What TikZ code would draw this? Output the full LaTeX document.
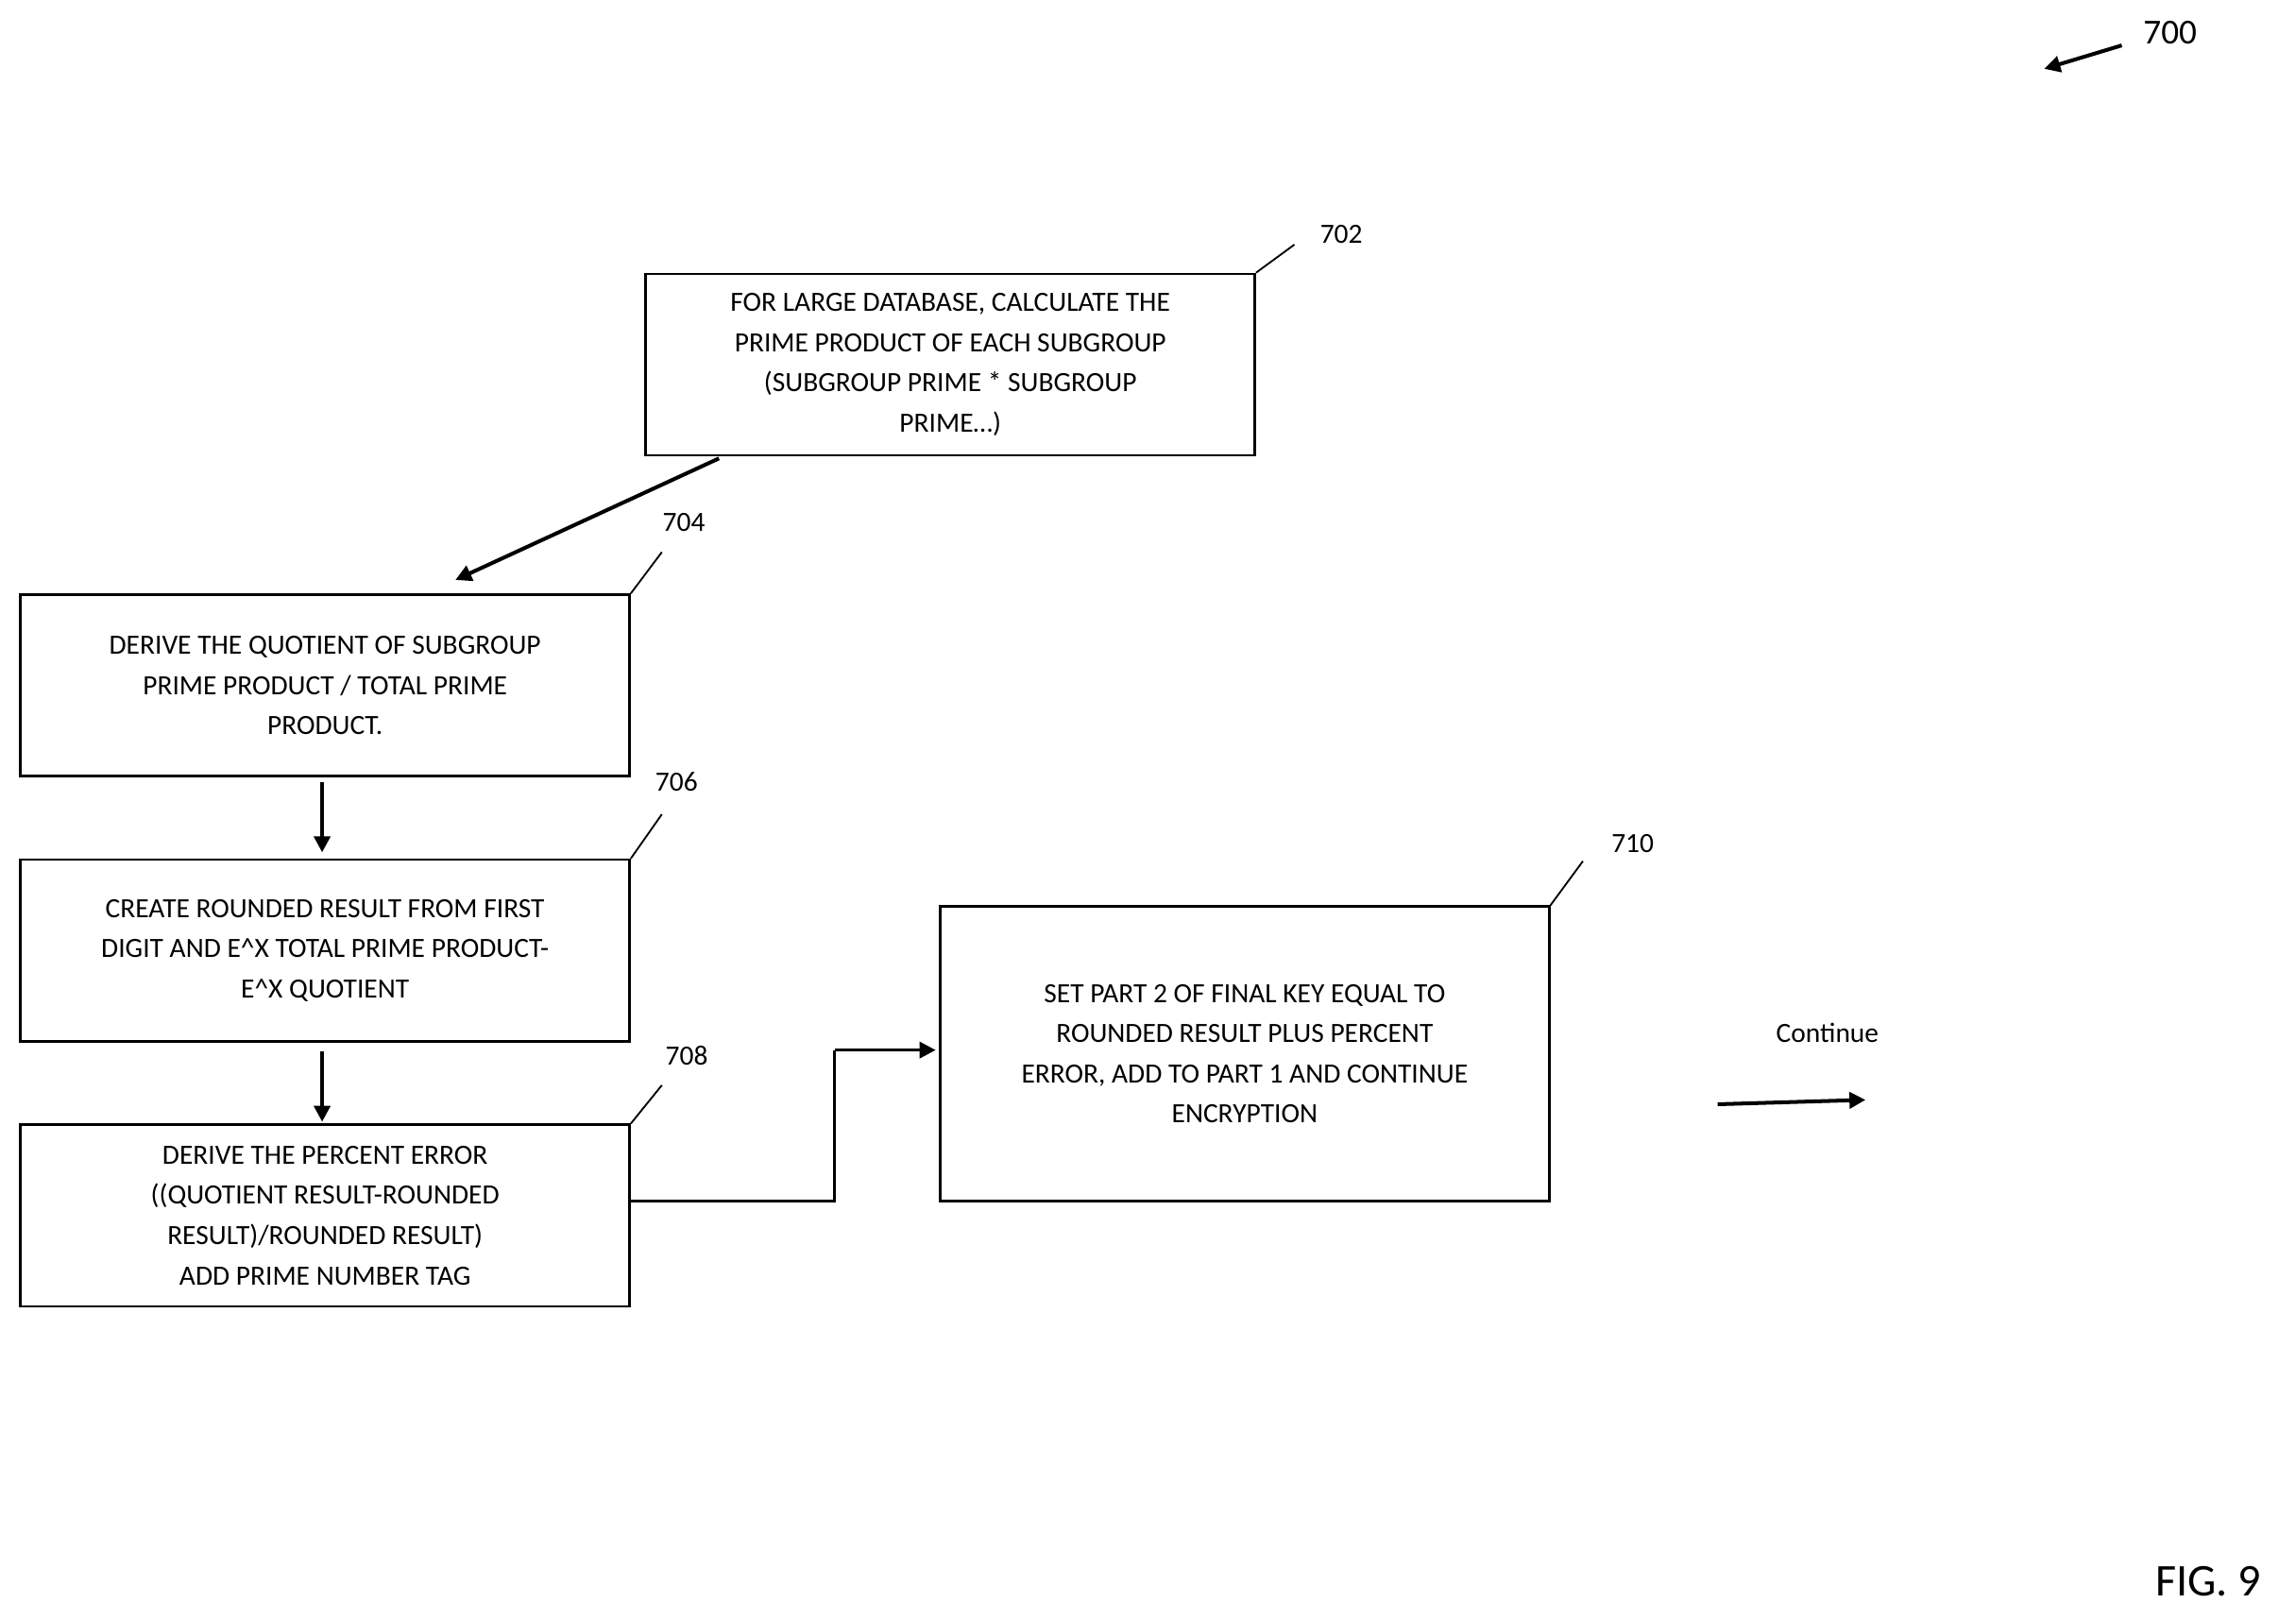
\documentclass[tikz,border=0pt]{standalone}
\usepackage{fontspec}
\setmainfont{Carlito}
\usetikzlibrary{arrows.meta}
\begin{document}
\begin{tikzpicture}[x=1pt,y=-1pt,
  box/.style={draw,line width=1.6pt,minimum width=416pt,align=center,font=\fontsize{19}{27.5}\selectfont,inner sep=0pt},
  arr/.style={line width=2.6pt,-{Triangle[length=11pt,width=11pt]}},
  lead/.style={line width=1.2pt},
  lbl/.style={font=\fontsize{19}{22}\selectfont}]
\useasboundingbox (0,0) rectangle (1568,1106);
\node[box,minimum height=124pt] (b702) at (649,249) {FOR LARGE DATABASE, CALCULATE THE\\PRIME PRODUCT OF EACH SUBGROUP\\(SUBGROUP PRIME * SUBGROUP\\PRIME…)};
\node[box,minimum height=124pt] (b704) at (222,468) {DERIVE THE QUOTIENT OF SUBGROUP\\PRIME PRODUCT / TOTAL PRIME\\PRODUCT.};
\node[box,minimum height=124pt] (b706) at (222,649) {CREATE ROUNDED RESULT FROM FIRST\\DIGIT AND E\^{}X TOTAL PRIME PRODUCT-\\E\^{}X QUOTIENT};
\node[box,minimum height=124pt] (b708) at (222,830) {DERIVE THE PERCENT ERROR\\((QUOTIENT RESULT-ROUNDED\\RESULT)/ROUNDED RESULT)\\ADD PRIME NUMBER TAG};
\node[box,minimum height=201pt] (b710) at (850,719.5) {SET PART 2 OF FINAL KEY EQUAL TO\\ROUNDED RESULT PLUS PERCENT\\ERROR, ADD TO PART 1 AND CONTINUE\\ENCRYPTION};
\coordinate (s1) at (491,313); \coordinate (e1) at (311,396);
\draw[arr] (s1) -- (e1);
\draw[arr] (b704.south-|220,0) ++(0,3) -- (220,582);
\draw[arr] (b706.south-|220,0) ++(0,6) -- (220,766);
\coordinate (m1) at (570,820); \coordinate (m2) at (570,717);
\draw[line width=1.6pt] (b708.east|-m1) -- (m1) -- (m2);
\draw[arr,line width=2.2pt] (m2) -- (639,717);
\node[lbl] (cont) at (1248,705) {Continue};
\coordinate (c1) at (1173,754); \coordinate (c2) at (1274,751);
\draw[arr] (c1) -- (c2);
\node[font=\fontsize{24}{28}\selectfont] (l700) at (1482,22) {700};
\coordinate (a1) at (1449,31); \coordinate (a2) at (1396,47);
\draw[arr] (a1) -- (a2);
\node[lbl] (l702) at (916,160) {702};
\node[lbl] (l704) at (467,357) {704};
\node[lbl] (l706) at (462,534) {706};
\node[lbl] (l708) at (469,721) {708};
\node[lbl] (l710) at (1115,576) {710};
\draw[lead] (884,167) -- (b702.north east);
\draw[lead] (452,377) -- (b704.north east);
\draw[lead] (452,556) -- (b706.north east);
\draw[lead] (452,741) -- (b708.north east);
\draw[lead] (1081,588) -- (b710.north east);
\node[font=\fontsize{31}{36}\selectfont] (fig) at (1508,1080) {FIG. 9};
\end{tikzpicture}
\end{document}
